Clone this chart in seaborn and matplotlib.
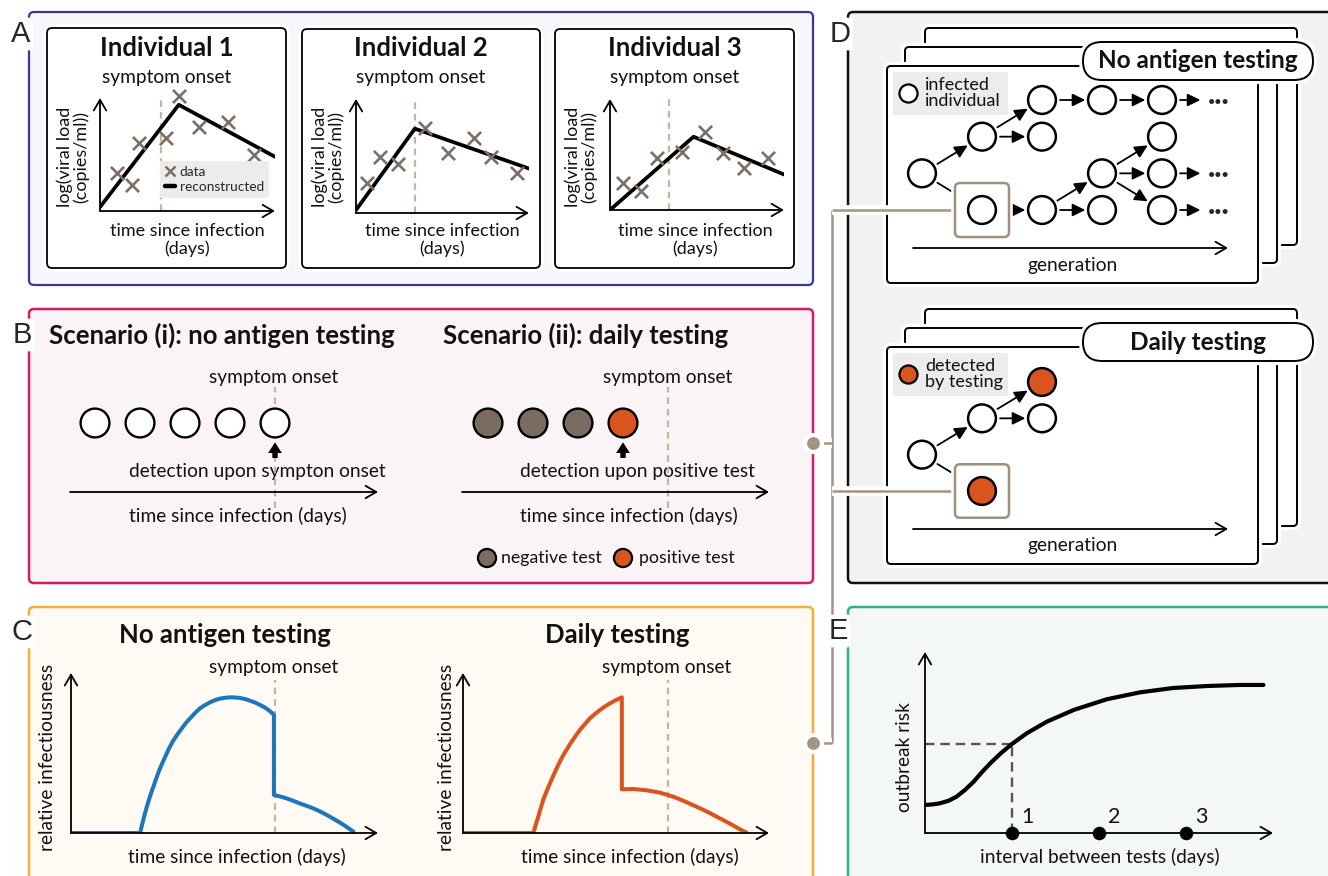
import matplotlib
matplotlib.use("Agg")
import matplotlib.pyplot as plt
import matplotlib.patheffects as pe
from matplotlib.patches import FancyBboxPatch
from matplotlib.lines import Line2D
import seaborn as sns

sns.set_theme(style="white")
plt.rcParams["font.family"] = ["Lato", "DejaVu Sans"]

# ---------------- data ----------------
# A: log viral load (arbitrary units) against days since infection
individuals = ["Individual 1", "Individual 2", "Individual 3"]
onset_day = [3.5, 3.4, 3.4]
recon_day = [[0.0, 4.5, 10.0], [0.0, 3.4, 10.0], [0.0, 4.8, 10.0]]
recon_load = [[0.35, 9.4, 4.8], [0.26, 7.4, 3.9], [0.0, 6.6, 3.2]]
obs_day = [[0.97, 1.83, 2.23, 3.77, 4.5, 5.66, 7.3, 8.8],
           [0.64, 1.39, 2.43, 3.99, 5.32, 6.82, 7.80, 9.31],
           [0.75, 1.78, 2.70, 4.14, 5.46, 6.49, 7.70, 9.08]]
obs_load = [[3.4, 2.3, 6.0, 6.5, 10.2, 7.4, 7.9, 5.0],
            [2.6, 4.9, 4.3, 7.5, 5.3, 6.6, 4.9, 3.5],
            [2.4, 1.7, 4.7, 5.2, 7.0, 5.1, 3.8, 4.7]]

# B: test days relative to infection, symptom onset on day 5
test_day_i = [1, 2, 3, 4, 5]
test_day_ii = [1, 2, 3, 4]
test_result_ii = ["negative", "negative", "negative", "positive"]
b_onset = 5

# C: relative infectiousness profiles
inf_day_none = [0.0, 2.25, 2.33, 2.41, 2.49, 2.57, 2.66, 2.74, 2.82, 2.90, 3.01, 3.12,
                3.22, 3.33, 3.47, 3.61, 3.74, 3.88, 4.04, 4.20, 4.37, 4.53, 4.69, 4.85,
                5.02, 5.18, 5.34, 5.50, 5.67, 5.83, 6.00, 6.16, 6.30, 6.43, 6.52, 6.61,
                6.61, 6.82, 7.03, 7.24, 7.46, 7.67, 7.89, 8.11, 8.33, 8.54, 8.76, 8.98,
                9.20]
inf_none = [0.0, 0.0, 0.064, 0.123, 0.177, 0.227, 0.276, 0.321, 0.364, 0.404, 0.452,
            0.498, 0.539, 0.577, 0.617, 0.654, 0.687, 0.717, 0.750, 0.779, 0.800,
            0.817, 0.830, 0.840, 0.845, 0.848, 0.847, 0.844, 0.837, 0.827, 0.815,
            0.800, 0.786, 0.769, 0.755, 0.738, 0.238, 0.228, 0.216, 0.201, 0.184,
            0.170, 0.154, 0.135, 0.113, 0.090, 0.065, 0.038, 0.008]
inf_day_daily = [0.0, 2.30, 2.38, 2.46, 2.54, 2.62, 2.73, 2.84, 2.95, 3.06, 3.17, 3.28,
                 3.42, 3.55, 3.69, 3.82, 3.99, 4.15, 4.32, 4.48, 4.64, 4.80, 5.00, 5.19,
                 5.19, 5.57, 6.00, 6.44, 6.87, 7.09, 7.31, 7.53, 7.75, 7.97, 8.18, 8.40,
                 8.62, 8.84, 9.05, 9.27]
inf_daily = [0.0, 0.0, 0.053, 0.102, 0.155, 0.206, 0.260, 0.310, 0.358, 0.404, 0.447,
             0.488, 0.531, 0.571, 0.609, 0.644, 0.682, 0.717, 0.745, 0.769, 0.791,
             0.810, 0.831, 0.848, 0.273, 0.275, 0.267, 0.252, 0.227, 0.210, 0.192,
             0.173, 0.154, 0.134, 0.113, 0.091, 0.069, 0.046, 0.023, 0.002]
c_onset = [6.64, 6.70]

# D: transmission trees as (generation, branch row)
tree_nodes = [(0, 2), (1, 1), (2, 0), (2, 1), (3, 0), (4, 0), (4, 1),
              (1, 3), (2, 3), (3, 2), (3, 3), (4, 2), (4, 3)]
tree_edges = [((0, 2), (1, 1)), ((0, 2), (1, 3)), ((1, 1), (2, 0)), ((1, 1), (2, 1)),
              ((2, 0), (3, 0)), ((3, 0), (4, 0)), ((1, 3), (2, 3)), ((2, 3), (3, 2)),
              ((2, 3), (3, 3)), ((3, 2), (4, 1)), ((3, 2), (4, 2)), ((3, 2), (4, 3))]
tree_open = [(4, 0), (4, 2), (4, 3)]
tested_nodes = [(0, 2), (1, 1), (2, 0), (2, 1), (1, 3)]
tested_edges = [((0, 2), (1, 1)), ((0, 2), (1, 3)), ((1, 1), (2, 0)), ((1, 1), (2, 1))]
tested_detected = [(2, 0), (1, 3)]
focus_case = (1, 3)

# E: outbreak risk against interval between tests
interval_days = [0.0, 0.09, 0.17, 0.27, 0.36, 0.46, 0.56, 0.65, 0.75, 0.87, 1.0, 1.17,
                 1.40, 1.71, 2.09, 2.47, 2.85, 3.24, 3.62, 3.89]
outbreak_risk = [0.155, 0.158, 0.164, 0.178, 0.20, 0.238, 0.284, 0.334, 0.385, 0.440,
                 0.492, 0.551, 0.615, 0.680, 0.739, 0.777, 0.801, 0.812, 0.818, 0.818]
interval_ticks = [1, 2, 3]
risk_at_daily = 0.49

# ---------------- styling ----------------
TAN = "#c9b499"
CROSS = "#7c6f66"
NEG = "#7a6c62"
POS = "#d9541e"
BLUE = "#1b76bc"
LINK = "#a39483"
BOXC = "#a08f80"
FS_T, FS_B, FS_S, FS_L, FS_P = 18.5, 13.8, 9.8, 21, 17.5

W, H = 1328, 876
fig = plt.figure(figsize=(W / 100, H / 100), dpi=100)
fig.patch.set_facecolor("white")
bg = fig.add_axes([0, 0, 1, 1])
bg.set_xlim(0, W)
bg.set_ylim(H, 0)
bg.axis("off")


def sub(x0, y0, x1, y1):
    ax = fig.add_axes([x0 / W, 1 - y1 / H, (x1 - x0) / W, (y1 - y0) / H])
    ax.axis("off")
    return ax


def rbox(x0, y0, x1, y1, ec, fc, lw, r=5, z=1, halo=0.0, ax=None):
    p = FancyBboxPatch((x0, y0), x1 - x0, y1 - y0,
                       boxstyle=f"round,pad=0,rounding_size={r}",
                       ec=ec, fc=fc, lw=lw, zorder=z)
    if halo:
        p.set_path_effects([pe.Stroke(linewidth=lw + halo, foreground="white"), pe.Normal()])
    (ax or bg).add_patch(p)
    return p


def open_arrow(ax, xy, xytext, coords="data", lw=1.3):
    ax.annotate("", xy=xy, xytext=xytext, xycoords=coords, textcoords=coords,
                arrowprops=dict(arrowstyle="->,head_length=0.55,head_width=0.32", lw=lw,
                                color="black", shrinkA=0, shrinkB=0, mutation_scale=14),
                annotation_clip=False)


def axis_arrows(ax, vertical=True):
    open_arrow(ax, (1, 0), (0, 0), coords="axes fraction")
    if vertical:
        open_arrow(ax, (0, 1), (0, 0), coords="axes fraction")


def txt(x, y, s, size=FS_B, ha="center", weight="normal", rot=0, z=6, **kw):
    bg.text(x, y, s, fontsize=size, ha=ha, va="center", fontweight=weight,
            rotation=rot, zorder=z, color="#111111", **kw)


def letter(x, y, s):
    bg.text(x, y, s, fontsize=FS_L, family="Liberation Sans", ha="center", va="center",
            zorder=8, bbox=dict(boxstyle="round,pad=0.08", fc="white", ec="none"))


# ---------------- panel frames ----------------
rbox(29, 12, 813, 285, "#38389a", "#f6f6fb", 1.6)
rbox(29, 309, 813, 583, "#d81b5f", "#faf4f7", 1.8)
rbox(29, 607, 813, 900, "#f7ad3a", "#fffaf3", 1.8)
rbox(848, 12, 1345, 583, "#111111", "#f2f2f2", 1.8)
rbox(848, 607, 1345, 900, "#2cb57a", "#f3f8f6", 1.8)
letter(21, 34, "A")
letter(22, 335, "B")
letter(22, 632, "C")
letter(840, 34, "D")
letter(838, 631, "E")

# connectors between panels
link_fx = [pe.Stroke(linewidth=7, foreground="white"), pe.Normal()]
for xs, ys in [([832, 832], [210, 743]), ([832, 955], [210, 210]), ([813, 832], [443, 443]),
               ([832, 955], [491, 491]), ([813, 832], [743, 743])]:
    bg.plot(xs, ys, color=LINK, lw=1.8, zorder=3, path_effects=link_fx, solid_capstyle="butt")
bg.scatter([813, 813], [443, 743], s=150, color=LINK, zorder=4, edgecolor="white", linewidth=3)

# ---------------- panel A ----------------
box_px = [(47, 28, 286, 268), (302, 29, 540, 268), (555, 29, 794, 268)]
ind_px = [(100, 98, 275, 211), (356, 99, 529, 213), (610, 99, 784, 210)]
for i, name in enumerate(individuals):
    x0, y0, x1, y1 = box_px[i]
    rbox(x0, y0, x1, y1, "black", "white", 1.3, r=5, z=2, halo=4)
    cx = (x0 + x1) / 2
    txt(cx, 48, name, size=FS_T, weight="bold")
    txt(cx, 78, "symptom onset")
    txt(x0 + 26, 157, "log(viral load\n(copies/ml))", size=13, rot=90, linespacing=1.0)
    txt(x0 + 140, 240, "time since infection\n(days)", size=13, linespacing=1.05)

    ax = sub(*ind_px[i])
    ax.plot([onset_day[i]] * 2, [0, 10.1], color=TAN, lw=1.6, dashes=(3, 2.2), clip_on=False, zorder=1)
    sns.lineplot(x=recon_day[i], y=recon_load[i], color="black", lw=2.7, estimator=None,
                 sort=False, ax=ax, zorder=3)
    sns.scatterplot(x=obs_day[i], y=obs_load[i], marker="x", color=CROSS, s=90,
                    linewidth=1.9, ax=ax, zorder=4, clip_on=False)
    ax.set_xlim(0, 10)
    ax.set_ylim(0, 10)
    axis_arrows(ax)
    if i == 0:
        handles = [Line2D([], [], ls="none", marker="x", color=CROSS, ms=7, mew=1.8),
                   Line2D([], [], color="black", lw=3.2)]
        leg = ax.legend(handles, ["data", "reconstructed"], loc="lower right",
                        bbox_to_anchor=(1.006, 0.053), fontsize=FS_S, handlelength=0.7,
                        handletextpad=0.35, borderpad=0.4, labelspacing=0.2,
                        frameon=True, fancybox=False, framealpha=1)
        leg.get_frame().set_facecolor("#ececec")
        leg.get_frame().set_edgecolor("none")

# ---------------- panel B ----------------
txt(49, 335, "Scenario (i): no antigen testing", size=FS_T, weight="bold", ha="left")
txt(443, 335, "Scenario (ii): daily testing", size=FS_T, weight="bold", ha="left")
for cx in (274, 668):
    txt(cx, 377, "symptom onset")
txt(257, 472, "detection upon sympton onset")
txt(637, 472, "detection upon positive test")
txt(238, 516, "time since infection (days)")
txt(629, 516, "time since infection (days)")

row_y = 0.75
for (x0, x1, lim), days, results in [
        ((70, 378, (0.444, 7.289)), test_day_i, ["none"] * len(test_day_i)),
        ((462, 769, (0.422, 7.244)), test_day_ii, test_result_ii)]:
    ax = sub(x0, 400, x1, 492)
    ax.plot([b_onset] * 2, [-0.17, 1.14], color=TAN, lw=1.6, dashes=(3, 2.2), clip_on=False, zorder=1)
    sns.scatterplot(x=days, y=[row_y] * len(days), hue=results,
                    palette={"none": "white", "negative": NEG, "positive": POS},
                    s=430, edgecolor="black", linewidth=1.7, legend=False, ax=ax, zorder=4,
                    clip_on=False)
    ax.annotate("", xy=(days[-1], 0.54), xytext=(days[-1], 0.37),
                arrowprops=dict(arrowstyle="simple,head_length=0.7,head_width=0.9,tail_width=0.35",
                                fc="black", ec="none", mutation_scale=11, shrinkA=0, shrinkB=0))
    ax.set_xlim(*lim)
    ax.set_ylim(0, 1)
    axis_arrows(ax, vertical=False)

bg.scatter([487, 623], [558, 558], s=170, c=[NEG, POS], edgecolor="black", linewidth=1.6, zorder=5)
txt(501, 558, "negative test", size=12.8, ha="left")
txt(639, 558, "positive test", size=12.8, ha="left")

# ---------------- panel C ----------------
txt(225, 635, "No antigen testing", size=FS_T, weight="bold")
txt(617, 635, "Daily testing", size=FS_T, weight="bold")
for cx in (274, 667):
    txt(cx, 668, "symptom onset")
txt(48, 757, "relative infectiousness", rot=90)
txt(447, 757, "relative infectiousness", rot=90)
txt(237, 857, "time since infection (days)")
txt(630, 857, "time since infection (days)")

for (x0, x1), t, v, col, on in [((71, 378), inf_day_none, inf_none, BLUE, c_onset[0]),
                                ((463, 769), inf_day_daily, inf_daily, POS, c_onset[1])]:
    ax = sub(x0, 673, x1, 833)
    ax.plot([on, on], [0, 0.956], color=TAN, lw=1.6, dashes=(3, 2.2), zorder=1)
    sns.lineplot(x=t, y=v, color=col, lw=2.9, estimator=None, sort=False, ax=ax, zorder=3)
    ax.set_xlim(0, 10)
    ax.set_ylim(0, 1)
    axis_arrows(ax)

# ---------------- panel D ----------------
cards = [(925, 28, 1297, 245), (905, 47, 1277, 263), (887, 66, 1258, 283)]
arrow_kw = dict(arrowstyle="-|>,head_length=0.55,head_width=0.27", lw=1.3, color="black",
                mutation_scale=14, shrinkA=13, shrinkB=12)
panels_d = [
    (0, "No antigen testing", "infected\nindividual", "white",
     tree_nodes, tree_edges, tree_open, [], (922, 100, 36.67)),
    (281, "Daily testing", "detected\nby testing", POS,
     tested_nodes, tested_edges, [], tested_detected, (922, 382, 36.33)),
]
for shift, title, leg_txt, leg_fc, nodes, edges, open_ends, detected, (ox, oy, rpx) in panels_d:
    for (x0, y0, x1, y1) in cards:
        rbox(x0, y0 + shift, x1, y1 + shift, "black", "white", 1.4, r=4, z=2, halo=4.5)
    rbox(1083, 42 + shift, 1313, 80 + shift, "black", "white", 1.4, r=19, z=2.5, halo=4.5)
    txt(1198, 61 + shift, title, size=FS_P, weight="bold")
    rbox(893, 72 + shift, 1008, 115 + shift, "none", "#ececec", 0, r=0, z=2.5)
    bg.scatter([908], [93 + shift], s=170, color=leg_fc, edgecolor="black", linewidth=1.6, zorder=5)
    txt(925, 93 + shift, leg_txt, size=13, ha="left", linespacing=0.95)
    open_arrow(bg, (1228, 248 + shift), (913, 248 + shift))
    txt(1072, 265 + shift, "generation", size=FS_B)

    gpx = 60.0
    ax = sub(886, 70 + shift, 1250, 247 + shift)
    for a, b in edges:
        ax.annotate("", xy=b, xytext=a, arrowprops=arrow_kw, zorder=2)
    for a in open_ends:
        ax.annotate("", xy=(a[0] + 0.64, a[1]), xytext=a, zorder=2,
                    arrowprops=dict(arrow_kw, shrinkB=0))
        ax.text(a[0] + 0.76, a[1], "···", fontsize=19, fontweight="bold",
                ha="left", va="center_baseline", zorder=2)
    fb = FancyBboxPatch((focus_case[0] - 0.45, focus_case[1] - 0.736), 0.9, 1.473,
                        boxstyle=f"round,pad=0,rounding_size={5 / gpx}",
                        mutation_aspect=gpx / rpx, ec=BOXC, fc="white", lw=1.8, zorder=3)
    fb.set_path_effects([pe.Stroke(linewidth=5.5, foreground="white"), pe.Normal()])
    ax.add_patch(fb)
    status = ["detected" if n in detected else "undetected" for n in nodes]
    sns.scatterplot(x=[n[0] for n in nodes], y=[n[1] for n in nodes], hue=status,
                    palette={"detected": POS, "undetected": "white"}, s=400,
                    edgecolor="black", linewidth=1.8, legend=False, ax=ax, zorder=4,
                    clip_on=False)
    ax.set_xlim((886 - ox) / gpx, (1250 - ox) / gpx)
    ax.set_ylim((247 + shift - oy) / rpx, (70 + shift - oy) / rpx)

# ---------------- panel E ----------------
txt(905, 757, "outbreak risk", rot=90)
txt(1100, 857, "interval between tests (days)")
ax = sub(925, 652, 1273, 833)
ax.plot([0, 1], [risk_at_daily] * 2, color="#555555", lw=1.7, dashes=(4, 2.5), zorder=2)
ax.plot([1, 1], [0, risk_at_daily], color="#555555", lw=1.7, dashes=(4, 2.5), zorder=2)
sns.lineplot(x=interval_days, y=outbreak_risk, color="black", lw=3.0, estimator=None,
             sort=False, ax=ax, zorder=3)
sns.scatterplot(x=interval_ticks, y=[0] * len(interval_ticks), color="black", s=95,
                ax=ax, zorder=5, clip_on=False, linewidth=0)
for t in interval_ticks:
    ax.text(t + 0.18, 0.09, str(t), fontsize=15.5, ha="center", va="center", color="#111111")
ax.set_xlim(0, 4)
ax.set_ylim(0, 1)
axis_arrows(ax)

fig.savefig("out.png", dpi=100, facecolor="white")
